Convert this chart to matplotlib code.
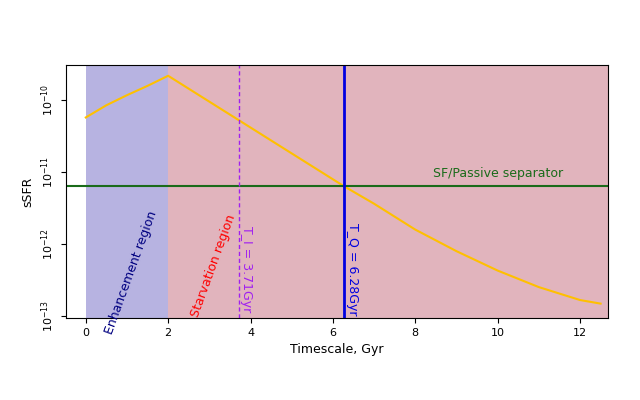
import matplotlib
matplotlib.use("Agg")
import matplotlib.pyplot as plt
import numpy as np

# sSFR track (log10 values)
t_gyr = [0, 0.5, 1, 1.5, 2, 3, 4, 5, 6, 6.28, 7, 8, 9, 10, 11, 12, 12.5]
log_ssfr = [-10.24, -10.07, -9.93, -9.8, -9.66, -10.02, -10.38, -10.74, -11.1,
            -11.2, -11.44, -11.8, -12.1, -12.37, -12.6, -12.78, -12.83]
t_enh = (0, 2)
t_starv = (2, 13)
t_i = 3.71
t_q = 6.28
sep = 10 ** -11.2

fig = plt.figure(figsize=(6.4, 4.0), dpi=100)
ax = fig.add_axes([66 / 640, 1 - 318 / 400, 542 / 640, 253 / 400])
ax.set_yscale("log")
ax.set_xlim(-0.48, 12.68)
ax.set_ylim(10 ** -13.03, 10 ** -9.51)

ax.axvspan(*t_enh, color="#b7b3e1", lw=0)
ax.axvspan(*t_starv, color="#e1b4bd", lw=0)
ax.plot(t_gyr, 10 ** np.array(log_ssfr), color="#ffc000", lw=1.5)
ax.axhline(sep, color="#1a6b1a", lw=1.5)
ax.axvline(t_i, color="#a020f0", lw=1, ls=(0, (3, 2)))
ax.axvline(t_q, color="#0000e0", lw=2)

ax.text(11.6, sep * 1.25, "SF/Passive separator", color="#1a6b1a", fontsize=9,
        ha="right", va="bottom")
ax.text(1.1, 10 ** -12.4, "Enhancement region", color="#000080", fontsize=9,
        rotation=70, ha="center", va="center")
ax.text(3.1, 10 ** -12.3, "Starvation region", color="red", fontsize=9,
        rotation=70, ha="center", va="center")
ax.text(t_i + 0.2, 10 ** -12.35, "T_I = 3.71Gyr", color="#a020f0", fontsize=9,
        rotation=-90, ha="center", va="center")
ax.text(t_q + 0.2, 10 ** -12.35, "T_Q = 6.28Gyr", color="#0000e0", fontsize=9,
        rotation=-90, ha="center", va="center")

ax.set_xticks([0, 2, 4, 6, 8, 10, 12])
ax.set_yticks([1e-13, 1e-12, 1e-11, 1e-10])
ax.minorticks_off()
for lab in ax.get_yticklabels():
    lab.set_rotation(90)
    lab.set_va("center")
ax.tick_params(labelsize=8)
ax.set_xlabel("Timescale, Gyr", fontsize=9)
ax.set_ylabel("sSFR", fontsize=9)

fig.savefig("out.png", dpi=100)
